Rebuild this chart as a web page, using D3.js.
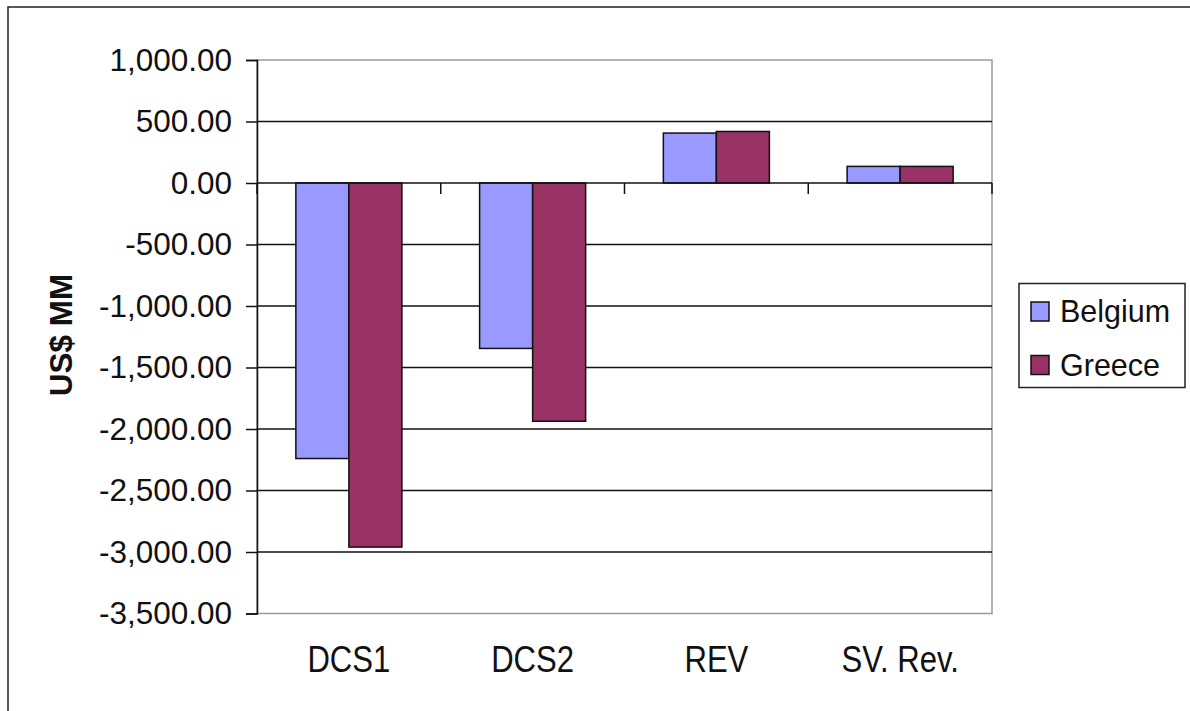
<!DOCTYPE html>
<html>
<head>
<meta charset="utf-8">
<script src="https://cdn.jsdelivr.net/npm/d3@7"></script>
<style>
  html, body { margin: 0; padding: 0; background: #fff; }
  svg { display: block; font-family: "Liberation Sans", Arial, sans-serif; }
</style>
</head>
<body>
<svg id="chart" width="1190" height="711"></svg>
<script>
const categories = ["DCS1", "DCS2", "REV", "SV. Rev."];
const seriesNames = ["Belgium", "Greece"];
const belgium = [-2240, -1345, 406, 135];
const greece = [-2960, -1937, 419, 135];
const yTicks = [1000, 500, 0, -500, -1000, -1500, -2000, -2500, -3000, -3500];
const colors = ["#9999FF", "#993366"];
const yTitle = "US$ MM";

const svg = d3.select("#chart");
const L = 257, R = 992, T = 60, B = 613.5;

// outer frame
svg.append("rect").attr("x", 8).attr("y", 7).attr("width", 1200).attr("height", 720)
  .attr("fill", "#fff").attr("stroke", "#222").attr("stroke-width", 1.5);

const y = d3.scaleLinear().domain([-3500, 1000]).range([B, T]);
const x0 = d3.scaleBand().domain(categories).range([L, R]).paddingInner(0.423).paddingOuter(0.2115);
const x1 = d3.scaleBand().domain(seriesNames).range([0, x0.bandwidth()]);

const fmt = d3.formatLocale({decimal: ".", thousands: ",", grouping: [3], currency: ["$", ""], minus: "-"}).format(",.2f");

// plot area border (gray)
svg.append("rect").attr("x", L).attr("y", T).attr("width", R - L).attr("height", B - T)
  .attr("fill", "none").attr("stroke", "#9a9a9a").attr("stroke-width", 1.5);

// gridlines
svg.append("g").selectAll("line").data(yTicks.filter(v => v < 1000 && v > -3500 && v !== 0)).join("line")
  .attr("x1", L).attr("x2", R).attr("y1", d => y(d)).attr("y2", d => y(d))
  .attr("stroke", "#111").attr("stroke-width", 1.5);

// y axis
const yAxis = d3.axisLeft(y).tickValues(yTicks).tickFormat(fmt).tickSize(11).tickPadding(14);
const gy = svg.append("g").attr("transform", `translate(${L},0)`).call(yAxis);
gy.select(".domain").attr("stroke", "#111").attr("stroke-width", 1.5);
gy.selectAll(".tick line").attr("stroke", "#111").attr("stroke-width", 1.5);
gy.selectAll(".tick text").attr("font-size", 31.5).attr("fill", "#111")
  .attr("font-family", "'Liberation Sans', Arial, sans-serif");

// bars
const data = categories.map((c, i) => ({cat: c, vals: [belgium[i], greece[i]]}));
const groups = svg.append("g").selectAll("g").data(data).join("g")
  .attr("transform", d => `translate(${x0(d.cat)},0)`);
groups.selectAll("rect").data(d => d.vals.map((v, j) => ({name: seriesNames[j], v, j}))).join("rect")
  .attr("x", d => x1(d.name))
  .attr("width", x1.bandwidth())
  .attr("y", d => y(Math.max(0, d.v)))
  .attr("height", d => Math.abs(y(d.v) - y(0)))
  .attr("fill", d => colors[d.j])
  .attr("stroke", "#111").attr("stroke-width", 1.5);

// x axis at zero
const step = x0.step();
const xAxisG = svg.append("g");
xAxisG.append("line").attr("x1", L).attr("x2", R).attr("y1", y(0)).attr("y2", y(0))
  .attr("stroke", "#111").attr("stroke-width", 1.5);
xAxisG.selectAll("line.tk").data(d3.range(categories.length + 1)).join("line").attr("class", "tk")
  .attr("x1", i => L + i * step).attr("x2", i => L + i * step)
  .attr("y1", y(0)).attr("y2", y(0) + 11)
  .attr("stroke", "#111").attr("stroke-width", 1.5);

// category labels
svg.append("g").selectAll("text").data(categories).join("text")
  .attr("transform", d => `translate(${x0(d) + x0.bandwidth() / 2},672) scale(0.84,1)`)
  .attr("text-anchor", "middle")
  .attr("font-size", 37).attr("fill", "#111")
  .text(d => d);

// y title
svg.append("text")
  .attr("transform", `translate(72,335) rotate(-90)`)
  .attr("text-anchor", "middle")
  .attr("font-size", 31.5).attr("font-weight", "bold").attr("fill", "#111")
  .text(yTitle);

// legend
const lg = svg.append("g");
lg.append("rect").attr("x", 1019).attr("y", 283.5).attr("width", 166).attr("height", 104)
  .attr("fill", "#fff").attr("stroke", "#222").attr("stroke-width", 1.5);
seriesNames.forEach((n, i) => {
  const yy = 302 + i * 53.5;
  lg.append("rect").attr("x", 1031).attr("y", yy).attr("width", 18).attr("height", 19)
    .attr("fill", colors[i]).attr("stroke", "#111").attr("stroke-width", 1.5);
  lg.append("text").attr("x", 1060).attr("y", yy + 20).attr("font-size", 30.5).attr("fill", "#111").text(n);
});
</script>
</body>
</html>
